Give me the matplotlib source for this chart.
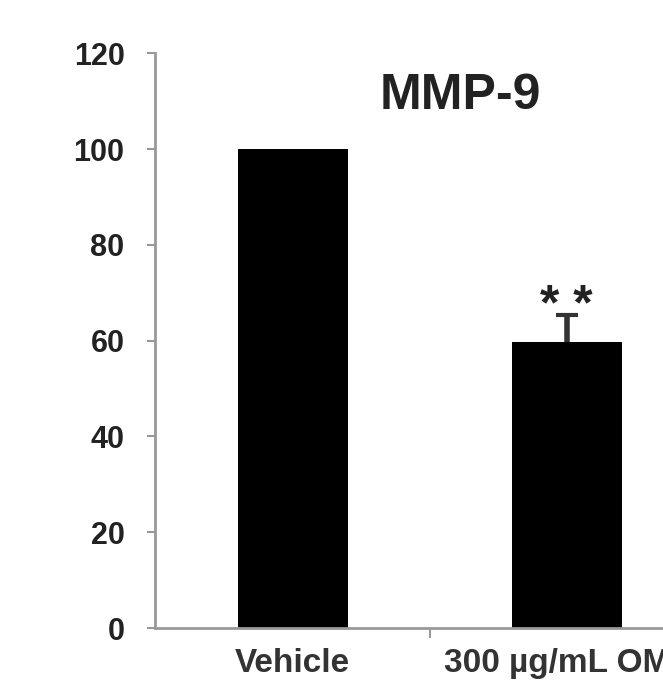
import matplotlib.pyplot as plt

# data
groups = ['Vehicle', '300 \u00b5g/mL OMT']
mmp9 = [100, 59.7]
mmp9_err = [0, 5.6]
y_ticks = [0, 20, 40, 60, 80, 100, 120]

plt.rcParams['font.family'] = ['Liberation Sans', 'DejaVu Sans']
plt.rcParams['font.weight'] = 'bold'

fig = plt.figure(figsize=(6.63, 6.82), dpi=100)
ax = fig.add_axes([0.234, 0.079, 0.829, 0.843])

x = list(range(len(groups)))
ax.bar(x, mmp9, width=0.40, color='black', zorder=2)
# lower half hidden behind the bar, so only the upper whisker shows
ax.errorbar(x[1], mmp9[1], yerr=[[3], [mmp9_err[1]]], fmt='none',
            ecolor='#333333', elinewidth=4, capsize=8, capthick=3, zorder=1)

ax.set_xlim(-0.5, 1.5)
ax.set_ylim(0, 120)
ax.set_yticks(y_ticks)
ax.set_yticklabels([str(t) for t in y_ticks], fontsize=22, color='#222222')

# category labels at bar centres, tick marks between categories
ax.set_xticks(x)
ax.set_xticklabels(groups, fontsize=24, color='#333333')
ax.tick_params(axis='x', length=0, pad=14)
ax.set_xticks([0.5], minor=True)
ax.tick_params(axis='x', which='minor', length=7, width=1.5, color='#999999')
ax.tick_params(axis='y', length=6, width=1.5, color='#999999', pad=16)

for side in ['top', 'right']:
    ax.spines[side].set_visible(False)
for side in ['left', 'bottom']:
    ax.spines[side].set_color('#999999')
    ax.spines[side].set_linewidth(2)

ax.text(0.61, 111, 'MMP-9', fontsize=36, ha='center', va='center', color='#222222')
ax.text(0.995, 67.0, '* *', fontsize=36, ha='center', va='center', color='#222222')

fig.savefig('out.png', dpi=100)
